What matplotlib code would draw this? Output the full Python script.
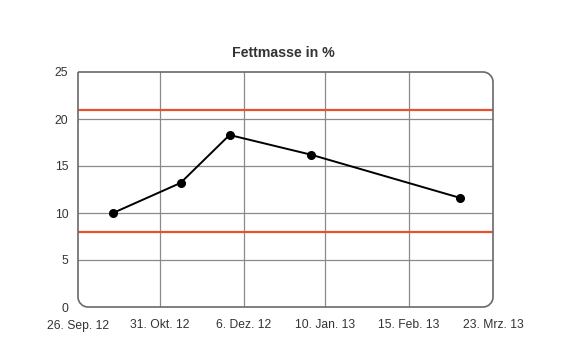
import numpy as np
import matplotlib
matplotlib.use('Agg')
import matplotlib.pyplot as plt
import matplotlib.dates as mdates
from matplotlib.path import Path
from matplotlib.patches import PathPatch
from datetime import date

plt.rcParams['font.family'] = ['Liberation Sans', 'DejaVu Sans']

# data
dates = [date(2012, 10, 11), date(2012, 11, 9), date(2012, 11, 30),
         date(2013, 1, 4), date(2013, 3, 9)]
fett = [10.0, 13.2, 18.3, 16.2, 11.6]
upper_limit = 21
lower_limit = 8
tick_dates = [date(2012, 9, 26), date(2012, 10, 31), date(2012, 12, 6),
              date(2013, 1, 10), date(2013, 2, 15), date(2013, 3, 23)]
tick_labels = ['26. Sep. 12', '31. Okt. 12', '6. Dez. 12',
               '10. Jan. 13', '15. Feb. 13', '23. Mrz. 13']
y_ticks = [0, 5, 10, 15, 20, 25]

fig = plt.figure(figsize=(5.7, 3.6), dpi=100)
ax = fig.add_axes([78 / 570, 53 / 360, 415 / 570, 235 / 360])

xd = mdates.date2num(dates)
xt = mdates.date2num(tick_dates)

ax.axhline(upper_limit, color='#e8502e', lw=1.6, zorder=2)
ax.axhline(lower_limit, color='#e8502e', lw=1.6, zorder=2)
ax.plot(xd, fett, color='black', lw=1.4, marker='o', ms=5.5, zorder=3)

ax.set_xlim(xt[0], xt[-1])
ax.set_ylim(0, 25)
ax.set_xticks(xt)
ax.set_xticklabels(tick_labels)
ax.set_yticks(y_ticks)
ax.grid(True, color='#8a8a8a', lw=0.9, zorder=1)
ax.set_axisbelow(True)
ax.tick_params(length=0, labelsize=8.7, colors='#333333')
ax.tick_params(axis='x', pad=9)
ax.tick_params(axis='y', pad=7)
for s in ax.spines.values():
    s.set_visible(False)

# hide grid lines at the edges, the frame covers them
for axis in (ax.xaxis, ax.yaxis):
    gl = axis.get_gridlines()
    gl[0].set_visible(False)
    gl[-1].set_visible(False)

# frame with rounded corners (not top-left)
rx, ry = 10 / 415, 10 / 235
k = 0.45
verts = [(0, 1), (1 - rx, 1), (1 - rx * k, 1), (1, 1 - ry * k), (1, 1 - ry),
         (1, ry), (1, ry * k), (1 - rx * k, 0), (1 - rx, 0),
         (rx, 0), (rx * k, 0), (0, ry * k), (0, ry), (0, 1)]
codes = [Path.MOVETO, Path.LINETO, Path.CURVE4, Path.CURVE4, Path.CURVE4,
         Path.LINETO, Path.CURVE4, Path.CURVE4, Path.CURVE4,
         Path.LINETO, Path.CURVE4, Path.CURVE4, Path.CURVE4, Path.LINETO]
frame = PathPatch(Path(verts, codes), transform=ax.transAxes, fill=False,
                  edgecolor='#6a6a6a', lw=1.2, clip_on=False, zorder=4)
ax.add_patch(frame)

fig.text(283 / 570, 1 - 53 / 360, 'Fettmasse in %', ha='center', va='center',
         fontsize=10.2, fontweight='bold', color='#333333')

fig.savefig('out.png', dpi=100)
